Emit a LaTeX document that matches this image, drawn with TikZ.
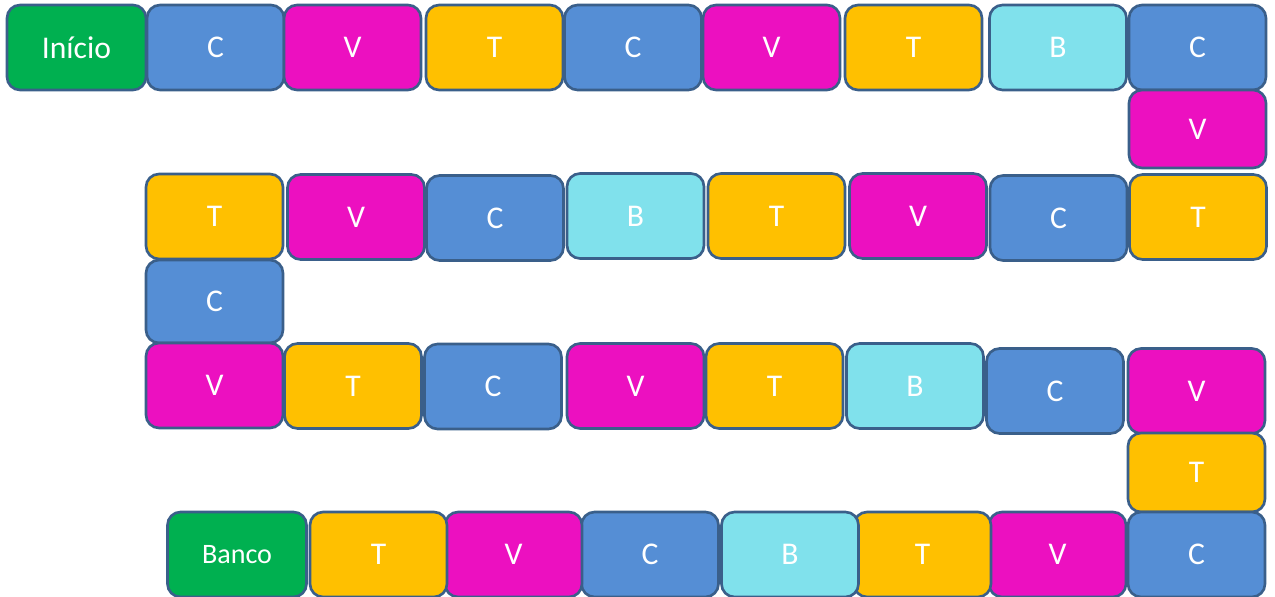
\documentclass[tikz,border=0pt]{standalone}
\usepackage{fontspec}
\setmainfont{Carlito}
\usepackage{xcolor}
\usetikzlibrary{positioning}
\definecolor{verde}{RGB}{0,176,80}
\definecolor{azul}{RGB}{85,142,213}
\definecolor{rosa}{RGB}{236,16,192}
\definecolor{laranja}{RGB}{255,192,0}
\definecolor{ciano}{RGB}{128,225,236}
\definecolor{borda}{RGB}{58,95,138}
\tikzset{
    casa/.style={rectangle, rounded corners=0.26cm, draw=borda, line width=1.5pt,
        minimum width=2.74cm, minimum height=1.7cm, text=white,
        font=\fontsize{18}{20}\selectfont},
    C/.style={casa, fill=azul},
    V/.style={casa, fill=rosa},
    T/.style={casa, fill=laranja},
    B/.style={casa, fill=ciano},
    G/.style={casa, fill=verde, minimum width=2.78cm}
}

\begin{document}
\begin{tikzpicture}[x=0.02cm, y=-0.02cm]
    \useasboundingbox (0,0) rectangle (1275,597);

    % Primeira linha
    \node[G] (ini) at (76.5,47.5) {Início};
    \node[C] (a1) at (215.5,47.5) {C};
    \node[V] (a2) at (352.5,47.5) {V};
    \node[T] (a3) at (494.5,47.5) {T};
    \node[C] (a4) at (633,47.5) {C};
    \node[V] (a5) at (771.5,47.5) {V};
    \node[T] (a6) at (913.5,47.5) {T};
    \node[B] (a7) at (1058,47.5) {B};
    \node[C] (a8) at (1197.5,47.5) {C};
    \node[V, minimum height=1.56cm] (a9) at (1197.5,129) {V};

    % Segunda linha
    \node[T] (b1) at (1198,217) {T};
    \node[C] (b2) at (1058.5,218) {C};
    \node[V] (b3) at (918,216) {V};
    \node[T] (b4) at (776.5,216) {T};
    \node[B] (b5) at (635.5,216) {B};
    \node[C] (b6) at (495,218) {C};
    \node[V] (b7) at (356,217) {V};
    \node[T] (b8) at (214.5,216.5) {T};
    \node[C, minimum height=1.66cm] (b9) at (214.5,301.5) {C};

    % Terceira linha
    \node[V] (c1) at (214.5,385.5) {V};
    \node[T] (c2) at (353,386) {T};
    \node[C] (c3) at (493,386.5) {C};
    \node[V] (c4) at (635.5,386) {V};
    \node[T] (c5) at (774.5,386) {T};
    \node[B] (c6) at (915,386) {B};
    \node[C] (c7) at (1055,391) {C};
    \node[V] (c8) at (1196.5,391) {V};
    \node[T, minimum height=1.58cm] (c9) at (1196.5,472.5) {T};

    % Quarta linha
    \node[C] (d1) at (1196.5,554.5) {C};
    \node[V] (d2) at (1057.5,554.5) {V};
    \node[T] (d3) at (922.5,554.5) {T};
    \node[B] (d4) at (790,554.5) {B};
    \node[C] (d5) at (650,554.5) {C};
    \node[V] (d6) at (513.5,554.5) {V};
    \node[T] (d7) at (378.5,554.5) {T};
    \node[G, font=\fontsize{16}{18}\selectfont] (banco) at (237,554.5) {Banco};
\end{tikzpicture}
\end{document}
